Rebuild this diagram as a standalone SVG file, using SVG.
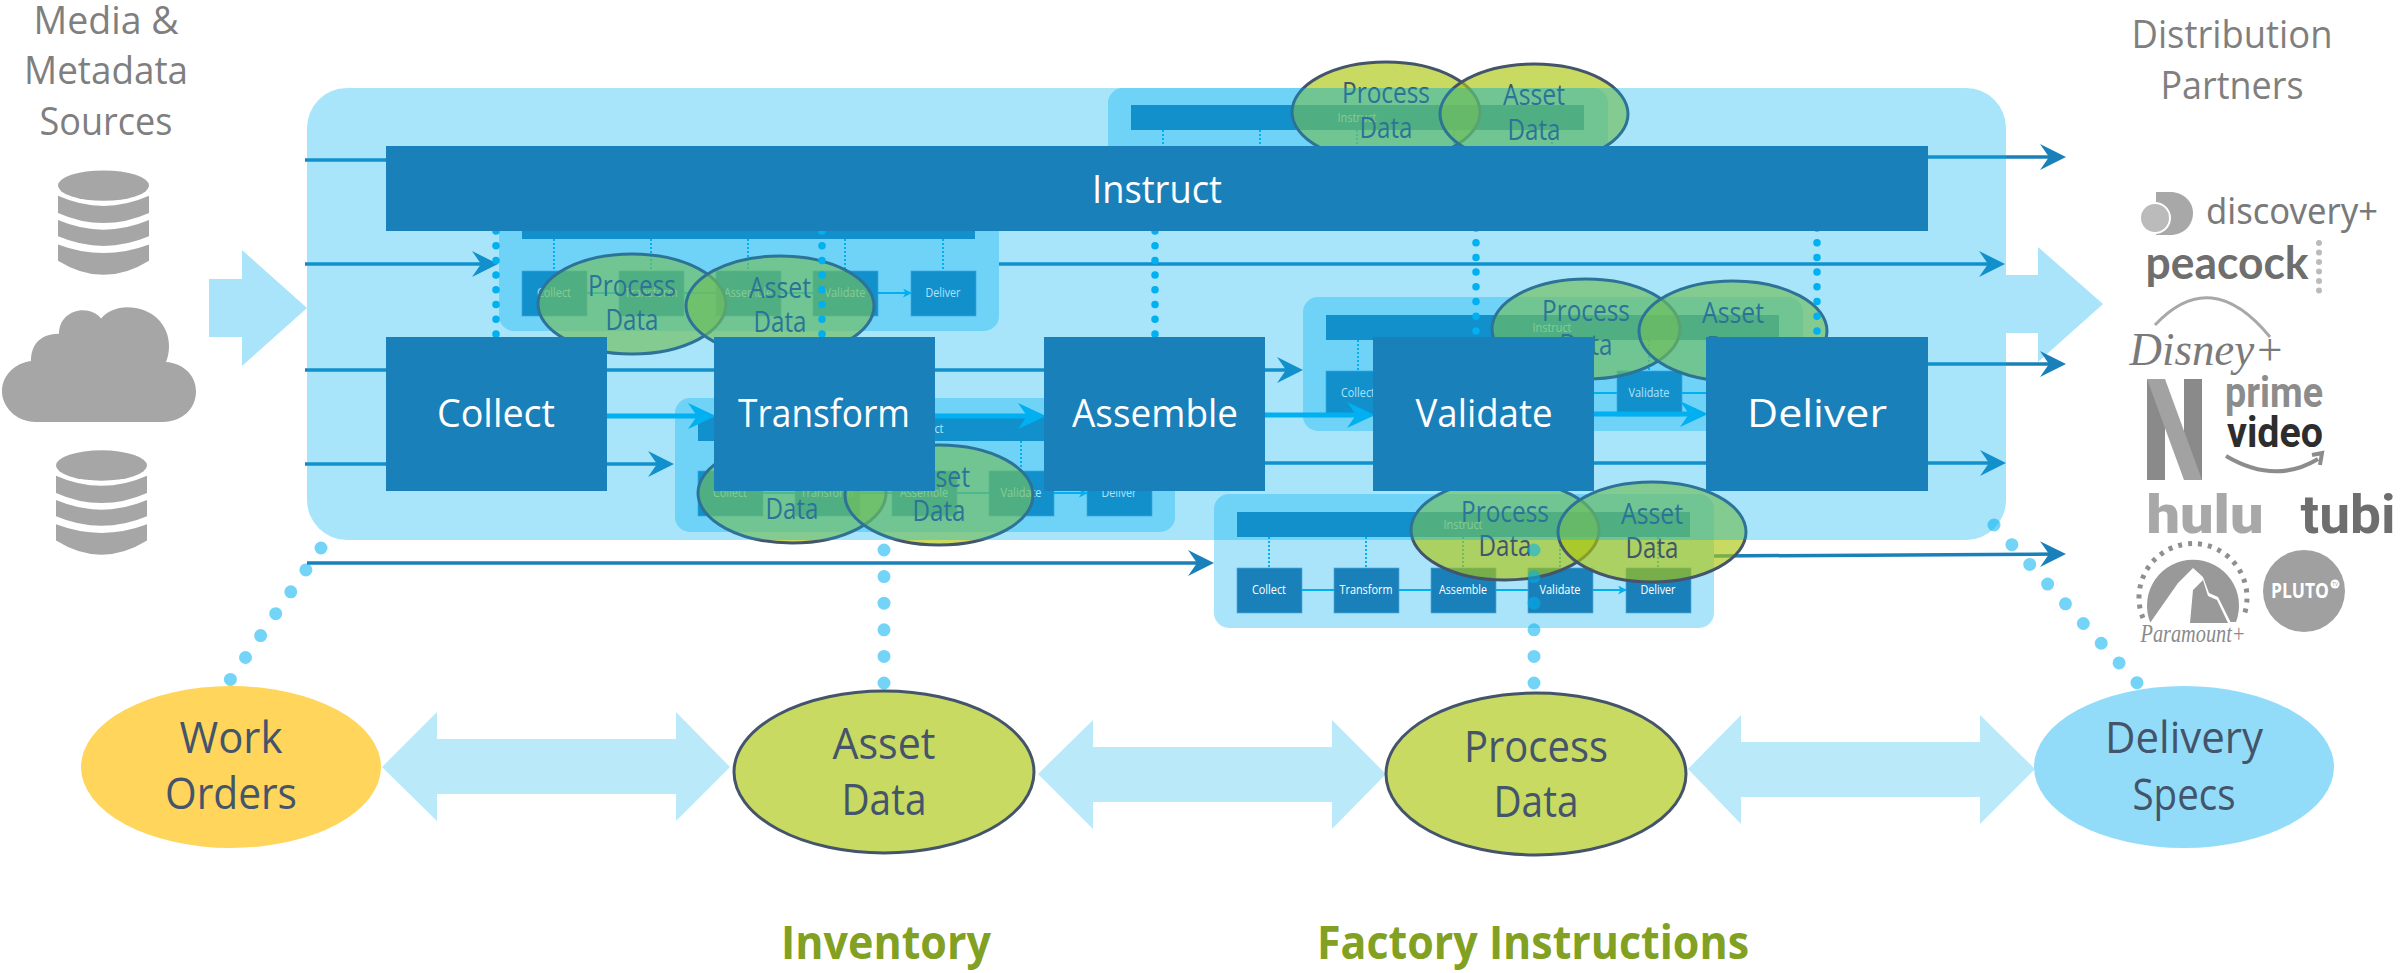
<svg xmlns="http://www.w3.org/2000/svg" width="2407" height="973" viewBox="0 0 2407 973">
<style>
text{font-family:"Open Sans","Noto Sans","Liberation Sans",sans-serif;text-anchor:middle}
.lbg{fill:#A9E4FB}
.bar{fill:#1A80BA}
.mb{fill:#1A80BA;stroke:#4FA8D8;stroke-width:.7}
.ml{font-size:13.5px;fill:#fff}
.md{stroke:#00B0F0;stroke-width:2;stroke-dasharray:2 2;fill:none}
.ma{stroke:#00B0F0;stroke-width:2;fill:none;marker-end:url(#sa)}
.ge{fill:#AAC60E;fill-opacity:.65;stroke:#44546A;stroke-width:3}
.gt{font-size:29px;fill:#44546A}
.ln{stroke:#1A80BA;stroke-width:3.5;fill:none;marker-end:url(#da)}
.th{stroke:#00B0F0;stroke-width:5;fill:none;marker-end:url(#ta)}
.d1{stroke:#00B0F0;stroke-width:7.5;stroke-linecap:round;stroke-dasharray:0 14.7;fill:none}
.d2{stroke:#00B0F0;stroke-opacity:.55;stroke-width:13;stroke-linecap:round;stroke-dasharray:0 26.6;fill:none}
.bt{font-size:38px;fill:#fff}
.et{font-size:43px;fill:#44546A}
.st{font-size:39px;fill:#7F7F7F}
.hd{font-size:47px;font-weight:700;fill:#82A021}
.ar{fill:#BAE9FA}
.la{fill:#A9E4FB}
.g{fill:#A6A6A6}
</style>
<defs>
<marker id="da" markerUnits="userSpaceOnUse" markerWidth="28" markerHeight="28" refX="20" refY="13" orient="auto"><path d="M0 0L26 13L0 26L9 13Z" fill="#1A80BA"/></marker>
<marker id="ta" markerUnits="userSpaceOnUse" markerWidth="30" markerHeight="28" refX="22" refY="13" orient="auto"><path d="M0 0L28 13L0 26L9 13Z" fill="#00B0F0"/></marker>
<marker id="sa" markerUnits="userSpaceOnUse" markerWidth="10" markerHeight="10" refX="8" refY="4.5" orient="auto"><path d="M0 0L9 4.5L0 9L2.5 4.5Z" fill="#00B0F0"/></marker>
<g id="db"><ellipse class="g" cx="103.5" cy="183" rx="45.5" ry="15"/><path class="g" d="M58 193Q103.5 213 149 193V210Q103.5 230 58 210Z"/><path class="g" d="M58 217Q103.5 236 149 217V233Q103.5 252 58 233Z"/><path class="g" d="M58 241Q103.5 258 149 241V257Q103.5 285 58 257Z"/></g>
</defs>
<rect width="2407" height="973" fill="#fff"/>

<g id="sources">
<text class="st" x="106" y="34" textLength="145" lengthAdjust="spacingAndGlyphs">Media &amp;</text>
<text class="st" x="106" y="84" textLength="164" lengthAdjust="spacingAndGlyphs">Metadata</text>
<text class="st" x="106" y="135" textLength="133" lengthAdjust="spacingAndGlyphs">Sources</text>
<g transform="scale(1 1.0142)">
<use href="#db"/>
<path class="g" d="M36 416C15 416 2 400 2 386C2 370 15 358 31 356C31 340 40 329 59 329C59 315 70 306 83 306C90 306 97 309 101 314C107 307 117 303 127 303C152 303 169 320 169 341C169 347 168 352 166 357C183 358 196 370 196 386C196 403 182 416 163 416Z"/>
<use href="#db" transform="translate(-2 276)"/>
</g>
</g>

<polygon class="la" points="2006,275 2038,275 2038,247 2103,304 2038,362 2038,333 2006,333"/>

<g id="connectors-under">
<path class="ln" d="M305 160H1105"/><path class="ln" d="M1607 157H2060"/>
<path class="ln" d="M305 264H492"/><path class="ln" d="M998 264H1999"/>
<path class="ln" d="M305 370H1297"/><path class="ln" d="M1803 364H2060"/>
<path class="ln" d="M305 464H668"/><path class="ln" d="M1174 463H2000"/>
<path class="ln" d="M307 563H1208"/><path class="ln" d="M1714 556L2060 554"/>
</g>

<g id="mini-a" transform="translate(1108 88)">
<rect class="lbg" width="500" height="134" rx="15"/>
<rect class="bar" x="23" y="17" width="453" height="25"/>
<text class="ml" x="249" y="34" textLength="39" lengthAdjust="spacingAndGlyphs">Instruct</text>
<path class="md" d="M55 42V74M152 42V74M249 42V74M346 42V74M444 42V74"/>
<rect class="mb" x="23" y="74" width="65" height="45"/><rect class="mb" x="120" y="74" width="65" height="45"/><rect class="mb" x="217" y="74" width="65" height="45"/><rect class="mb" x="314" y="74" width="65" height="45"/><rect class="mb" x="412" y="74" width="65" height="45"/>
<ellipse class="ge" cx="278" cy="24" rx="94" ry="50"/><text class="gt" x="278" y="15" textLength="88" lengthAdjust="spacingAndGlyphs">Process</text><text class="gt" x="278" y="50" textLength="53" lengthAdjust="spacingAndGlyphs">Data</text>
<ellipse class="ge" cx="426" cy="26" rx="94" ry="50"/><text class="gt" x="426" y="17" textLength="62" lengthAdjust="spacingAndGlyphs">Asset</text><text class="gt" x="426" y="52" textLength="53" lengthAdjust="spacingAndGlyphs">Data</text>
</g>

<g id="mini-b" transform="translate(499 197)">
<rect class="lbg" width="500" height="134" rx="15"/>
<rect class="bar" x="23" y="17" width="453" height="25"/>
<text class="ml" x="249" y="34" textLength="39" lengthAdjust="spacingAndGlyphs">Instruct</text>
<path class="md" d="M55 42V74M152 42V74M249 42V74M346 42V74M444 42V74"/>
<rect class="mb" x="23" y="74" width="65" height="45"/><rect class="mb" x="120" y="74" width="65" height="45"/><rect class="mb" x="217" y="74" width="65" height="45"/><rect class="mb" x="314" y="74" width="65" height="45"/><rect class="mb" x="412" y="74" width="65" height="45"/>
<path class="ma" d="M88 96H120M185 96H217M282 96H314M379 96H412"/>
<text class="ml" x="55" y="100" textLength="34" lengthAdjust="spacingAndGlyphs">Collect</text><text class="ml" x="152" y="100" textLength="53" lengthAdjust="spacingAndGlyphs">Transform</text><text class="ml" x="249" y="100" textLength="48" lengthAdjust="spacingAndGlyphs">Assemble</text><text class="ml" x="346" y="100" textLength="41" lengthAdjust="spacingAndGlyphs">Validate</text><text class="ml" x="444" y="100" textLength="35" lengthAdjust="spacingAndGlyphs">Deliver</text>
<ellipse class="ge" cx="133" cy="107" rx="94" ry="50"/><text class="gt" x="133" y="99" textLength="88" lengthAdjust="spacingAndGlyphs">Process</text><text class="gt" x="133" y="133" textLength="53" lengthAdjust="spacingAndGlyphs">Data</text>
<ellipse class="ge" cx="281" cy="109" rx="94" ry="50"/><text class="gt" x="281" y="101" textLength="62" lengthAdjust="spacingAndGlyphs">Asset</text><text class="gt" x="281" y="135" textLength="53" lengthAdjust="spacingAndGlyphs">Data</text>
</g>

<g id="mini-c" transform="translate(675 398)">
<rect class="lbg" width="500" height="134" rx="15"/>
<rect class="bar" x="23" y="18" width="453" height="25"/>
<text class="ml" x="249" y="35" textLength="39" lengthAdjust="spacingAndGlyphs">Instruct</text>
<path class="md" d="M55 43V73M152 43V73M249 43V73M346 43V73M444 43V73"/>
<rect class="mb" x="23" y="73" width="65" height="45"/><rect class="mb" x="120" y="73" width="65" height="45"/><rect class="mb" x="217" y="73" width="65" height="45"/><rect class="mb" x="314" y="73" width="65" height="45"/><rect class="mb" x="412" y="73" width="65" height="45"/>
<path class="ma" d="M88 95H120M185 95H217M282 95H314M379 95H412"/>
<text class="ml" x="55" y="99" textLength="34" lengthAdjust="spacingAndGlyphs">Collect</text><text class="ml" x="152" y="99" textLength="53" lengthAdjust="spacingAndGlyphs">Transform</text><text class="ml" x="249" y="99" textLength="48" lengthAdjust="spacingAndGlyphs">Assemble</text><text class="ml" x="346" y="99" textLength="41" lengthAdjust="spacingAndGlyphs">Validate</text><text class="ml" x="444" y="99" textLength="35" lengthAdjust="spacingAndGlyphs">Deliver</text>
<ellipse class="ge" cx="117" cy="95" rx="94" ry="50"/><text class="gt" x="117" y="87" textLength="88" lengthAdjust="spacingAndGlyphs">Process</text><text class="gt" x="117" y="121" textLength="53" lengthAdjust="spacingAndGlyphs">Data</text>
<ellipse class="ge" cx="264" cy="97" rx="94" ry="50"/><text class="gt" x="264" y="89" textLength="62" lengthAdjust="spacingAndGlyphs">Asset</text><text class="gt" x="264" y="123" textLength="53" lengthAdjust="spacingAndGlyphs">Data</text>
</g>

<g id="mini-d" transform="translate(1303 297)">
<rect class="lbg" width="500" height="134" rx="15"/>
<rect class="bar" x="23" y="18" width="453" height="25"/>
<text class="ml" x="249" y="35" textLength="39" lengthAdjust="spacingAndGlyphs">Instruct</text>
<path class="md" d="M55 43V74M152 43V74M249 43V74M346 43V74M444 43V74"/>
<rect class="mb" x="23" y="74" width="65" height="45"/><rect class="mb" x="120" y="74" width="65" height="45"/><rect class="mb" x="217" y="74" width="65" height="45"/><rect class="mb" x="314" y="74" width="65" height="45"/><rect class="mb" x="412" y="74" width="65" height="45"/>
<path class="ma" d="M88 96H120M185 96H217M282 96H314M379 96H412"/>
<text class="ml" x="55" y="100" textLength="34" lengthAdjust="spacingAndGlyphs">Collect</text><text class="ml" x="152" y="100" textLength="53" lengthAdjust="spacingAndGlyphs">Transform</text><text class="ml" x="249" y="100" textLength="48" lengthAdjust="spacingAndGlyphs">Assemble</text><text class="ml" x="346" y="100" textLength="41" lengthAdjust="spacingAndGlyphs">Validate</text><text class="ml" x="444" y="100" textLength="35" lengthAdjust="spacingAndGlyphs">Deliver</text>
<ellipse class="ge" cx="283" cy="32" rx="94" ry="50"/><text class="gt" x="283" y="24" textLength="88" lengthAdjust="spacingAndGlyphs">Process</text><text class="gt" x="283" y="58" textLength="53" lengthAdjust="spacingAndGlyphs">Data</text>
<ellipse class="ge" cx="430" cy="34" rx="94" ry="50"/><text class="gt" x="430" y="26" textLength="62" lengthAdjust="spacingAndGlyphs">Asset</text><text class="gt" x="430" y="60" textLength="53" lengthAdjust="spacingAndGlyphs">Data</text>
</g>

<g id="mini-e" transform="translate(1214 494)">
<rect class="lbg" width="500" height="134" rx="15"/>
<rect class="bar" x="23" y="18" width="453" height="25"/>
<text class="ml" x="249" y="35" textLength="39" lengthAdjust="spacingAndGlyphs">Instruct</text>
<path class="md" d="M55 43V74M152 43V74M249 43V74M346 43V74M444 43V74"/>
<rect class="mb" x="23" y="74" width="65" height="45"/><rect class="mb" x="120" y="74" width="65" height="45"/><rect class="mb" x="217" y="74" width="65" height="45"/><rect class="mb" x="314" y="74" width="65" height="45"/><rect class="mb" x="412" y="74" width="65" height="45"/>
<path class="ma" d="M88 96H120M185 96H217M282 96H314M379 96H412"/>
<text class="ml" x="55" y="100" textLength="34" lengthAdjust="spacingAndGlyphs">Collect</text><text class="ml" x="152" y="100" textLength="53" lengthAdjust="spacingAndGlyphs">Transform</text><text class="ml" x="249" y="100" textLength="48" lengthAdjust="spacingAndGlyphs">Assemble</text><text class="ml" x="346" y="100" textLength="41" lengthAdjust="spacingAndGlyphs">Validate</text><text class="ml" x="444" y="100" textLength="35" lengthAdjust="spacingAndGlyphs">Deliver</text>
<ellipse class="ge" cx="291" cy="36" rx="94" ry="50"/><text class="gt" x="291" y="28" textLength="88" lengthAdjust="spacingAndGlyphs">Process</text><text class="gt" x="291" y="62" textLength="53" lengthAdjust="spacingAndGlyphs">Data</text>
<ellipse class="ge" cx="438" cy="38" rx="94" ry="50"/><text class="gt" x="438" y="30" textLength="62" lengthAdjust="spacingAndGlyphs">Asset</text><text class="gt" x="438" y="64" textLength="53" lengthAdjust="spacingAndGlyphs">Data</text>
</g>

<g id="factory-frame">
<rect x="307" y="88" width="1699" height="452" rx="40" fill="#00B0F0" fill-opacity=".34"/>
<polygon class="la" points="209,279 242,279 242,250 307,308 242,366 242,337 209,337"/>
</g>

<g id="connectors">
<path class="d1" d="M496 231V337"/><path class="d1" d="M822 231V337"/><path class="d1" d="M1155 231V337"/><path class="d1" d="M1476 228V337"/><path class="d1" d="M1817 228V337"/>
<path class="th" d="M607 416H710"/><path class="th" d="M935 416H1040"/><path class="th" d="M1265 415H1369"/><path class="th" d="M1594 414H1702"/>
<path class="d2" d="M321 548L230 680"/><path class="d2" d="M884 550V684"/><path class="d2" d="M1534 550V684"/><path class="d2" d="M1994 525L2140 686"/>
<polygon class="ar" points="382,767 437,712 437,739 676,739 676,712 730,767 676,821 676,794 437,794 437,821"/>
<polygon class="ar" points="1038,774 1093,720 1093,747 1332,747 1332,720 1386,774 1332,829 1332,802 1093,802 1093,829"/>
<polygon class="ar" points="1688,769 1741,715 1741,742 1980,742 1980,715 2035,769 1980,824 1980,797 1741,797 1741,824"/>
</g>

<g id="instruct"><rect class="bar" x="386" y="146" width="1542" height="85"/><text class="bt" x="1157" y="203" textLength="130" lengthAdjust="spacingAndGlyphs">Instruct</text></g>
<g id="collect"><rect class="bar" x="386" y="337" width="221" height="154"/><text class="bt" x="496" y="427" textLength="118" lengthAdjust="spacingAndGlyphs">Collect</text></g>
<g id="transform"><rect class="bar" x="714" y="337" width="221" height="154"/><text class="bt" x="824" y="427" textLength="172" lengthAdjust="spacingAndGlyphs">Transform</text></g>
<g id="assemble"><rect class="bar" x="1044" y="337" width="221" height="154"/><text class="bt" x="1155" y="427" textLength="166" lengthAdjust="spacingAndGlyphs">Assemble</text></g>
<g id="validate"><rect class="bar" x="1373" y="337" width="221" height="154"/><text class="bt" x="1484" y="427" textLength="137" lengthAdjust="spacingAndGlyphs">Validate</text></g>
<g id="deliver"><rect class="bar" x="1706" y="337" width="222" height="154"/><text class="bt" x="1817" y="427" textLength="140" lengthAdjust="spacingAndGlyphs">Deliver</text></g>

<g id="work-orders"><ellipse cx="231" cy="767" rx="150" ry="81" fill="#FFD55B"/><text class="et" x="231" y="753" textLength="103" lengthAdjust="spacingAndGlyphs">Work</text><text class="et" x="231" y="809" textLength="132" lengthAdjust="spacingAndGlyphs">Orders</text></g>
<g id="asset-data"><ellipse cx="884" cy="772" rx="150" ry="81" fill="#C8DA62" stroke="#44546A" stroke-width="3"/><text class="et" x="884" y="759" textLength="103" lengthAdjust="spacingAndGlyphs">Asset</text><text class="et" x="884" y="815" textLength="85" lengthAdjust="spacingAndGlyphs">Data</text></g>
<g id="process-data"><ellipse cx="1536" cy="774" rx="150" ry="81" fill="#C8DA62" stroke="#44546A" stroke-width="3"/><text class="et" x="1536" y="762" textLength="144" lengthAdjust="spacingAndGlyphs">Process</text><text class="et" x="1536" y="817" textLength="85" lengthAdjust="spacingAndGlyphs">Data</text></g>
<g id="delivery-specs"><ellipse cx="2184" cy="767" rx="150" ry="81" fill="#92DCF9"/><text class="et" x="2184" y="753" textLength="158" lengthAdjust="spacingAndGlyphs">Delivery</text><text class="et" x="2184" y="810" textLength="103" lengthAdjust="spacingAndGlyphs">Specs</text></g>

<g id="labels">
<text class="hd" x="886" y="959" textLength="210" lengthAdjust="spacingAndGlyphs">Inventory</text>
<text class="hd" x="1533" y="959" textLength="432" lengthAdjust="spacingAndGlyphs">Factory Instructions</text>
<text class="st" x="2232" y="48" textLength="201" lengthAdjust="spacingAndGlyphs">Distribution</text>
<text class="st" x="2232" y="99" textLength="143" lengthAdjust="spacingAndGlyphs">Partners</text>
</g>

<g id="partners">
<path d="M2156 192H2170C2184 192 2193 202 2193 213C2193 225 2184 235 2170 235H2156Z" fill="#A8A8A8"/>
<circle cx="2155" cy="218" r="15" fill="#BBB" stroke="#fff" stroke-width="2"/>
<text x="2292" y="224" font-size="36" fill="#7A7A7A" textLength="172" lengthAdjust="spacingAndGlyphs" style='font-family:"Noto Sans",sans-serif'>discovery+</text>
<text x="2227" y="279" font-size="46" font-weight="700" fill="#6E6E6E" textLength="163" lengthAdjust="spacingAndGlyphs" style='font-family:Lato,sans-serif'>peacock</text>
<path d="M2319 243V291" stroke="#BBB" stroke-width="6" stroke-linecap="round" stroke-dasharray="0 9.5" fill="none"/>
<path d="M2155 325Q2211 265 2270 337" stroke="#A8A8A8" stroke-width="3" fill="none"/>
<text x="2207" y="365" font-size="46" font-style="italic" fill="#7A7A7A" textLength="155" lengthAdjust="spacingAndGlyphs" style='font-family:"Liberation Serif",serif'>Disney+</text>
<polygon points="2147,379 2165,379 2165,480 2147,480" fill="#8A8A8A"/><polygon points="2184,379 2202,379 2202,480 2184,480" fill="#8A8A8A"/><polygon points="2147,379 2165,379 2202,480 2184,480" fill="#A2A2A2"/>
<text x="2274" y="407" font-size="42" font-weight="700" fill="#8C8C8C" textLength="98" lengthAdjust="spacingAndGlyphs" style='font-family:Roboto,sans-serif'>prime</text>
<text x="2275" y="447" font-size="42" font-weight="700" fill="#2D2D2D" textLength="96" lengthAdjust="spacingAndGlyphs" style='font-family:Roboto,sans-serif'>video</text>
<path d="M2226 456Q2275 485 2318 459M2312 455L2322 453L2320 465" stroke="#8C8C8C" stroke-width="4" fill="none"/>
<text x="2205" y="533" font-size="54" font-weight="900" fill="#A8A8A8" textLength="117" lengthAdjust="spacingAndGlyphs" style='font-family:Roboto,sans-serif'>hulu</text>
<text x="2348" y="533" font-size="54" font-weight="700" fill="#6E6E6E" textLength="95" lengthAdjust="spacingAndGlyphs" style='font-family:Roboto,sans-serif'>tubi</text>
<path d="M2143 618A54 54 0 1 1 2243 618" stroke="#8F8F8F" stroke-width="5" stroke-dasharray="4 6.05" fill="none"/>
<path d="M2150 622A46 46 0 1 1 2236 622Z" fill="#999"/>
<path d="M2193 568L2203 577L2209 593L2218 597L2231 623H2150L2178 583Z" fill="#fff"/>
<path d="M2190 623L2193 590L2203 580L2208 596L2217 600L2228 623Z" fill="#999"/>
<text x="2193" y="642" font-size="26" font-style="italic" fill="#8A8A8A" textLength="105" lengthAdjust="spacingAndGlyphs" style='font-family:"Liberation Serif",serif'>Paramount+</text>
<circle cx="2304" cy="591" r="41" fill="#A0A0A0"/>
<text x="2300" y="598" font-size="22" font-weight="700" fill="#fff" textLength="58" lengthAdjust="spacingAndGlyphs">PLUTO</text>
<circle cx="2335" cy="584" r="4.5" fill="#fff"/><text x="2335" y="586" font-size="5" fill="#A0A0A0">TV</text>
</g>
</svg>
